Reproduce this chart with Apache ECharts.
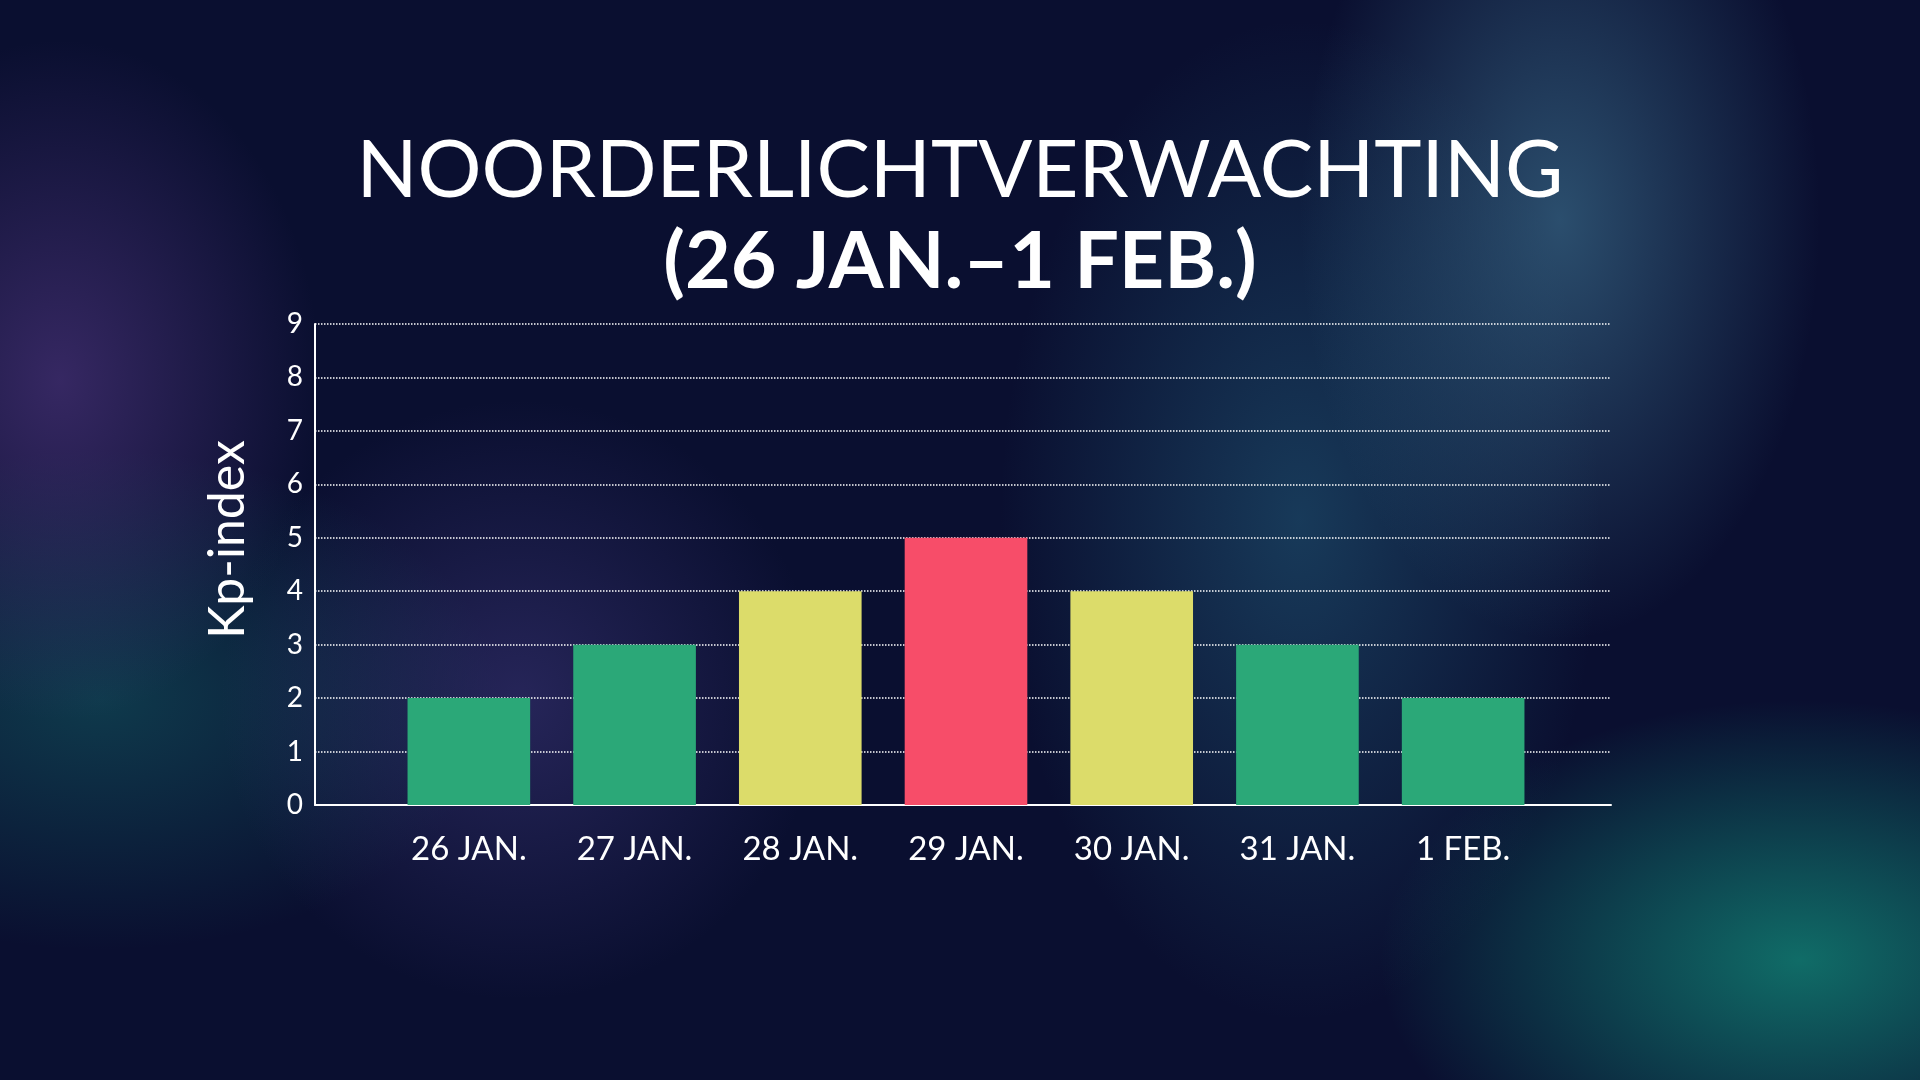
<!DOCTYPE html>
<html>
<head>
<meta charset="utf-8">
<script src="https://cdn.jsdelivr.net/npm/echarts@6/dist/echarts.min.js"></script>
<style>
  html, body { margin: 0; padding: 0; }
  body {
    width: 1920px; height: 1080px; overflow: hidden;
    background:
      radial-gradient(ellipse 260px 420px at 1560px 220px, rgba(70,130,160,0.55), transparent),
      radial-gradient(ellipse 300px 500px at 1300px 520px, rgba(40,110,140,0.45), transparent),
      radial-gradient(ellipse 420px 260px at 1800px 960px, rgba(20,170,140,0.6), transparent),
      radial-gradient(ellipse 260px 340px at 60px 380px, rgba(90,60,140,0.55), transparent),
      radial-gradient(ellipse 300px 300px at 520px 700px, rgba(80,70,150,0.4), transparent),
      radial-gradient(ellipse 400px 250px at 100px 700px, rgba(20,110,110,0.45), transparent),
      #0a0f30;
  }
  #chart { width: 1920px; height: 1080px; }
</style>
</head>
<body>
<div id="chart"></div>
<script>
// data
const categories = ['26 JAN.', '27 JAN.', '28 JAN.', '29 JAN.', '30 JAN.', '31 JAN.', '1 FEB.'];
const kpValues = [2, 3, 4, 5, 4, 3, 2];
const barColors = ['#2ba878', '#2ba878', '#dcdc6a', '#f74d69', '#dcdc6a', '#2ba878', '#2ba878'];
const yTicks = [0, 9, 1];

const font = 'Lato, "Open Sans", sans-serif';
var myChart = echarts.init(document.getElementById('chart'), null, { renderer: 'canvas' });

myChart.setOption({
  backgroundColor: 'transparent',
  title: [
    { text: 'NOORDERLICHTVERWACHTING', left: 'center', top: 126,
      textStyle: { color: '#fff', fontSize: 80, fontWeight: 'normal', fontFamily: font } },
    { text: '(26 JAN.–1 FEB.)', left: 'center', top: 218,
      textStyle: { color: '#fff', fontSize: 79, fontWeight: 'bold', fontFamily: font } }
  ],
  grid: [
    { left: 315, right: 309, top: 324, bottom: 275 },
    { left: 386, right: 374, top: 324, bottom: 275 }
  ],
  xAxis: [
    { gridIndex: 0, type: 'category', data: [''],
      axisLine: { lineStyle: { color: '#fff', width: 2 } },
      axisTick: { show: false }, axisLabel: { show: false } },
    { gridIndex: 1, type: 'category', data: categories,
      axisLine: { show: false }, axisTick: { show: false },
      axisLabel: { color: '#fff', fontSize: 33, fontFamily: font, margin: 28 } }
  ],
  yAxis: [
    { gridIndex: 0, type: 'value', min: yTicks[0], max: yTicks[1], interval: yTicks[2],
      name: 'Kp-index', nameLocation: 'middle', nameGap: 62,
      nameTextStyle: { color: '#fff', fontSize: 50, fontFamily: font, padding: [0, 0, 0, 50] },
      axisLine: { show: true, lineStyle: { color: '#fff', width: 2 } },
      axisTick: { show: false },
      axisLabel: { color: '#fff', fontSize: 28, fontFamily: font, margin: 12 },
      splitLine: { lineStyle: { color: '#fff', type: 'dotted', width: 1.5 } } },
    { gridIndex: 1, type: 'value', min: yTicks[0], max: yTicks[1], interval: yTicks[2],
      show: false, splitLine: { show: false } }
  ],
  series: [{
    type: 'bar', xAxisIndex: 1, yAxisIndex: 1,
    barWidth: '74%',
    data: kpValues.map((v, i) => ({ value: v, itemStyle: { color: barColors[i] } }))
  }]
});
</script>
</body>
</html>
